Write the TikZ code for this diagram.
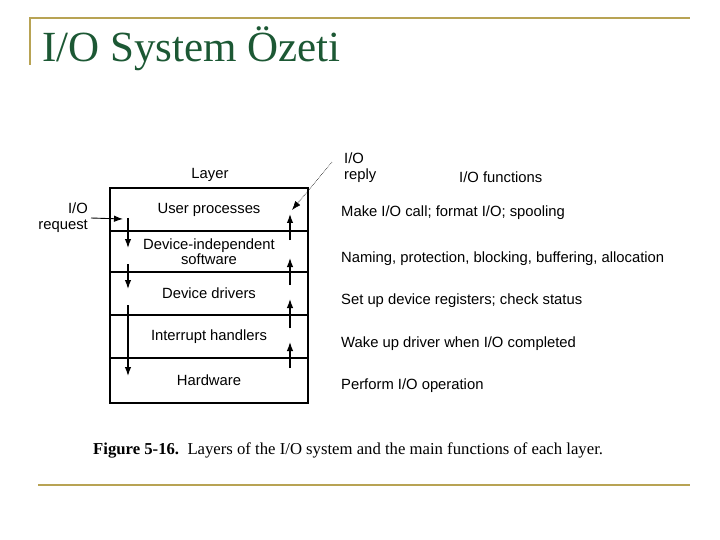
\documentclass[tikz,border=0pt]{standalone}
\usepackage{fontspec}
\setmainfont{Liberation Serif}
\setsansfont{Liberation Sans}
\usetikzlibrary{arrows.meta}
\definecolor{slidegold}{RGB}{184,163,84}
\definecolor{titlegreen}{RGB}{28,88,52}
\begin{document}
\begin{tikzpicture}[x=1pt,y=-1pt,
  layer/.style={draw,line width=1.2pt,minimum width=198pt,inner sep=0pt,align=center,font=\sffamily\fontsize{14.8}{14.5}\selectfont},
  lbl/.style={inner sep=0pt,font=\sffamily\fontsize{14.8}{16}\selectfont},
  flow/.style={-{Latex[length=9pt,width=6.5pt]},line width=1.2pt}]
\useasboundingbox (0,0) rectangle (720,540);
% slide frame
\draw[slidegold,line width=1.5pt] (30,65) -- (30,18) -- (690,18);
\draw[slidegold,line width=1.5pt] (38,485) -- (690,485);
\node[anchor=base west,inner sep=0pt,text=titlegreen,font=\fontsize{43}{48}\selectfont] (title) at (42,62) {I/O System Özeti};
% layers
\node[layer,minimum height=43pt] (user) at (209,209.5) {User processes};
\node[layer,minimum height=41pt] (indep) at (209,251.5) {Device-independent\\software};
\node[layer,minimum height=43pt] (drivers) at (209,293.5) {Device drivers};
\node[layer,minimum height=43pt] (irq) at (209,336.5) {Interrupt handlers};
\node[layer,minimum height=45pt] (hw) at (209,380.5) {Hardware};
\node[lbl,anchor=base] (layerhead) at (210,179) {Layer};
% request path and reply path
\foreach \a/\b in {218/248, 264/289, 305/376}
  \draw[flow] (128,\a) -- (128,\b);
\foreach \a/\b in {240/214, 285/258, 328/299, 368/342}
  \draw[flow] (290,\a) -- (290,\b);
\node[lbl,anchor=east,align=right] (req) at (88,218) {I/O\\request};
\draw[flow,line width=0.9pt] ([xshift=3pt]req.east) -- ++(32,1);
\node[lbl,anchor=north west,align=left] (reply) at (344,153) {I/O\\reply};
\draw[densely dotted,semithick,-{Latex[length=9pt,width=6.5pt]}] ([xshift=-12pt,yshift=6pt]reply.west) -- (292,210);
% functions
\node[lbl,anchor=base west] (funchead) at (459,183) {I/O functions};
\node[lbl,anchor=base west] (fuser) at (341,217) {Make I/O call; format I/O; spooling};
\node[lbl,anchor=base west] (findep) at (341,262) {Naming, protection, blocking, buffering, allocation};
\node[lbl,anchor=base west] (fdrivers) at (341,304) {Set up device registers; check status};
\node[lbl,anchor=base west] (firq) at (341,347) {Wake up driver when I/O completed};
\node[lbl,anchor=base west] (fhw) at (341,389) {Perform I/O operation};
% caption
\node[anchor=base west,inner sep=0pt,font=\fontsize{16.7}{18}\selectfont] (caption) at (93,454) {\textbf{Figure 5-16.}\ \ Layers of the I/O system and the main functions of each layer.};
\end{tikzpicture}
\end{document}
